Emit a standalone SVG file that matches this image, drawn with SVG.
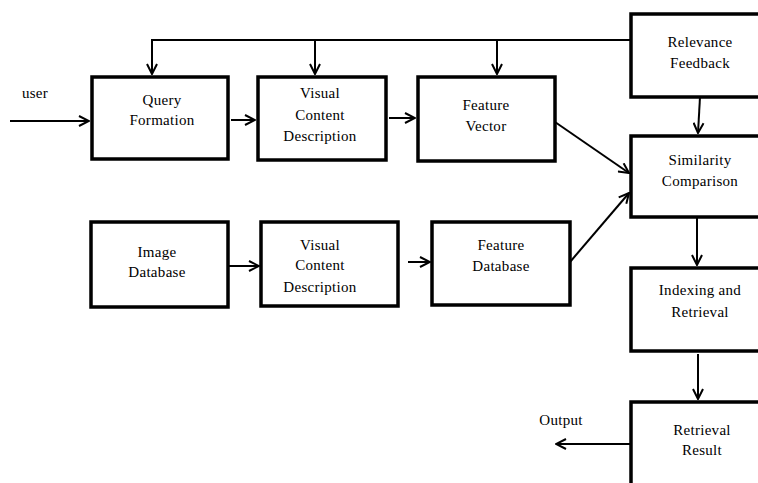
<svg xmlns="http://www.w3.org/2000/svg" width="758" height="483" viewBox="0 0 758 483">
<style>
.box{fill:#fff;stroke:#000;stroke-width:3.5}
.t{font-family:"Liberation Serif","Times New Roman",serif;font-size:15px;letter-spacing:0.3px;fill:#000;text-anchor:middle}
.c{fill:none;stroke:#000;stroke-width:2}
</style>
<defs>
<marker id="a" viewBox="0 0 12 12" refX="11" refY="6" markerWidth="12" markerHeight="12" markerUnits="userSpaceOnUse" orient="auto">
<path d="M1,1 L11,6 L1,11" fill="none" stroke="#000" stroke-width="2"/>
</marker>
</defs>
<rect width="758" height="483" fill="#fff"/>
<g id="connectors">
<polyline class="c" points="631,40 152,40 152,74" marker-end="url(#a)"/>
<line class="c" x1="315" y1="40" x2="315" y2="74" marker-end="url(#a)"/>
<line class="c" x1="497" y1="40" x2="497" y2="74" marker-end="url(#a)"/>
<line class="c" x1="10" y1="121" x2="89" y2="121" marker-end="url(#a)"/>
<line class="c" x1="231" y1="120" x2="255" y2="120" marker-end="url(#a)"/>
<line class="c" x1="389" y1="118" x2="415" y2="118" stroke-width="3" marker-end="url(#a)"/>
<line class="c" x1="555" y1="122" x2="629" y2="173" marker-end="url(#a)"/>
<line class="c" x1="570" y1="262" x2="629" y2="193" marker-end="url(#a)"/>
<line class="c" x1="700" y1="97" x2="698" y2="133" marker-end="url(#a)"/>
<line class="c" x1="697" y1="218" x2="697" y2="265" marker-end="url(#a)"/>
<line class="c" x1="698" y1="354" x2="698" y2="399" marker-end="url(#a)"/>
<line class="c" x1="631" y1="444" x2="556" y2="444" stroke-width="3" marker-end="url(#a)"/>
<line class="c" x1="229" y1="266" x2="259" y2="266" marker-end="url(#a)"/>
<line class="c" x1="408" y1="262" x2="430" y2="262" marker-end="url(#a)"/>
</g>
<g id="user"><text class="t" x="35" y="98">user</text></g>
<g id="output"><text class="t" x="561" y="425">Output</text></g>
<g id="query-formation">
<rect class="box" x="92" y="77" width="136" height="82"/>
<text class="t" x="162" y="105">Query</text>
<text class="t" x="162" y="125">Formation</text>
</g>
<g id="vcd-top">
<rect class="box" x="258" y="77" width="128" height="83"/>
<text class="t" x="320" y="98">Visual</text>
<text class="t" x="320" y="120">Content</text>
<text class="t" x="320" y="141">Description</text>
</g>
<g id="feature-vector">
<rect class="box" x="418" y="77" width="137" height="84"/>
<text class="t" x="486" y="110">Feature</text>
<text class="t" x="486" y="131">Vector</text>
</g>
<g id="relevance-feedback">
<rect class="box" x="631" y="14" width="140" height="83"/>
<text class="t" x="700" y="47">Relevance</text>
<text class="t" x="700" y="68">Feedback</text>
</g>
<g id="similarity-comparison">
<rect class="box" x="631" y="136" width="140" height="81"/>
<text class="t" x="700" y="165">Similarity</text>
<text class="t" x="700" y="186">Comparison</text>
</g>
<g id="image-database">
<rect class="box" x="91" y="222" width="137" height="85"/>
<text class="t" x="157" y="257">Image</text>
<text class="t" x="157" y="277">Database</text>
</g>
<g id="vcd-bottom">
<rect class="box" x="261" y="222" width="137" height="84"/>
<text class="t" x="320" y="250">Visual</text>
<text class="t" x="320" y="270">Content</text>
<text class="t" x="320" y="292">Description</text>
</g>
<g id="feature-database">
<rect class="box" x="432" y="222" width="138" height="83"/>
<text class="t" x="501" y="250">Feature</text>
<text class="t" x="501" y="271">Database</text>
</g>
<g id="indexing-retrieval">
<rect class="box" x="631" y="268" width="140" height="83"/>
<text class="t" x="700" y="295">Indexing and</text>
<text class="t" x="700" y="317">Retrieval</text>
</g>
<g id="retrieval-result">
<rect class="box" x="631" y="402" width="140" height="100"/>
<text class="t" x="702" y="435">Retrieval</text>
<text class="t" x="702" y="455">Result</text>
</g>
</svg>
